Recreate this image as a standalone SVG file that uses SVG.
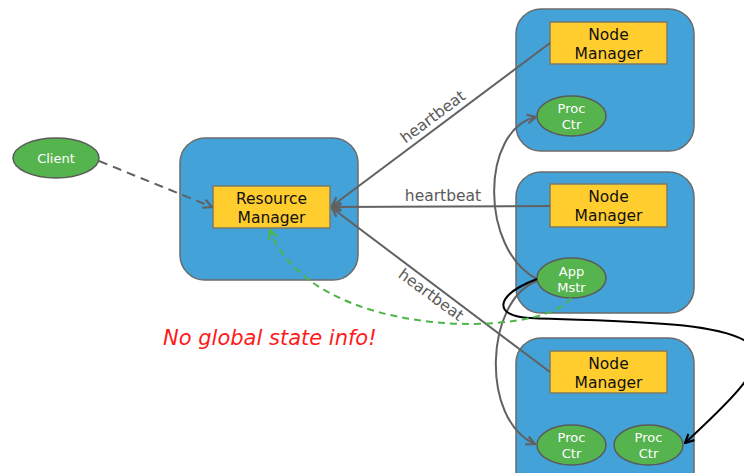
<svg xmlns="http://www.w3.org/2000/svg" width="744" height="473" viewBox="0 0 744 473">
  <style>
    text { font-family: "DejaVu Sans", Verdana, sans-serif; }
    .host { fill: #43A2D8; stroke: #6b6b6b; stroke-width: 1.5; }
    .mgr { fill: #FFCD2E; stroke: #7a7a6a; stroke-width: 1.5; }
    .mgr-t { font-size: 15.5px; fill: #111; text-anchor: middle; }
    .proc { fill: #56B44F; stroke: #5a5a5a; stroke-width: 1.5; }
    .proc-t { font-size: 13px; fill: #fff; text-anchor: middle; }
    .hb { font-size: 15.5px; fill: #5a5a5a; text-anchor: middle; }
    .link { fill: none; stroke: #616161; stroke-width: 2; }
  </style>
  <defs>
    <marker id="arr-grey" viewBox="0 0 10 10" refX="9" refY="5" markerWidth="11" markerHeight="11" markerUnits="userSpaceOnUse" orient="auto">
      <path d="M1,1 L9,5 L1,9" fill="none" stroke="#616161" stroke-width="2"/>
    </marker>
    <marker id="arr-black" viewBox="0 0 10 10" refX="9" refY="5" markerWidth="11" markerHeight="11" markerUnits="userSpaceOnUse" orient="auto">
      <path d="M1,1 L9,5 L1,9" fill="none" stroke="#000" stroke-width="2"/>
    </marker>
    <marker id="arr-green" viewBox="0 0 10 10" refX="9" refY="5" markerWidth="11" markerHeight="11" markerUnits="userSpaceOnUse" orient="auto">
      <path d="M1,1 L9,5 L1,9" fill="none" stroke="#4DB548" stroke-width="2"/>
    </marker>
  </defs>

  <!-- hosts and their daemons -->
  <g id="client">
    <ellipse class="proc" cx="56" cy="158" rx="43" ry="20"/>
    <text class="proc-t" x="56" y="163">Client</text>
  </g>

  <g id="rm-host">
    <rect class="host" x="180" y="138" width="178" height="142" rx="25"/>
  </g>
  <g id="resource-manager">
    <rect class="mgr" x="213" y="186" width="117" height="42"/>
    <text class="mgr-t" x="271.5" y="204">Resource</text>
    <text class="mgr-t" x="271.5" y="223">Manager</text>
  </g>

  <g id="host-1">
    <rect class="host" x="516" y="9" width="178" height="142" rx="25"/>
  </g>
  <g id="node-manager-1">
    <rect class="mgr" x="550" y="22" width="117" height="42"/>
    <text class="mgr-t" x="608.5" y="40">Node</text>
    <text class="mgr-t" x="608.5" y="59">Manager</text>
  </g>
  <g id="proc-ctr-1">
    <ellipse class="proc" cx="571.5" cy="116" rx="34.5" ry="20"/>
    <text class="proc-t" x="571.5" y="113">Proc</text>
    <text class="proc-t" x="571.5" y="129">Ctr</text>
  </g>

  <g id="host-2">
    <rect class="host" x="516" y="172" width="178" height="141" rx="25"/>
  </g>
  <g id="node-manager-2">
    <rect class="mgr" x="550" y="184" width="117" height="43"/>
    <text class="mgr-t" x="608.5" y="202">Node</text>
    <text class="mgr-t" x="608.5" y="221">Manager</text>
  </g>
  <g id="app-master">
    <ellipse class="proc" cx="571.5" cy="278" rx="34.5" ry="20"/>
    <text class="proc-t" x="571.5" y="276">App</text>
    <text class="proc-t" x="571.5" y="292">Mstr</text>
  </g>

  <g id="host-3">
    <rect class="host" x="516" y="338" width="178" height="160" rx="25"/>
  </g>
  <g id="node-manager-3">
    <rect class="mgr" x="550" y="351" width="117" height="42"/>
    <text class="mgr-t" x="608.5" y="369">Node</text>
    <text class="mgr-t" x="608.5" y="388">Manager</text>
  </g>
  <g id="proc-ctr-2">
    <ellipse class="proc" cx="571.5" cy="445" rx="34.5" ry="20"/>
    <text class="proc-t" x="571.5" y="442">Proc</text>
    <text class="proc-t" x="571.5" y="458">Ctr</text>
  </g>
  <g id="proc-ctr-3">
    <ellipse class="proc" cx="648.5" cy="445" rx="34.5" ry="20"/>
    <text class="proc-t" x="648.5" y="442">Proc</text>
    <text class="proc-t" x="648.5" y="458">Ctr</text>
  </g>

  <!-- connectors -->
  <g id="connectors">
    <path class="link" d="M99,161 L212,207" stroke-dasharray="9,6" stroke-width="2.2" marker-end="url(#arr-grey)"/>
    <path class="link" d="M550,43 L332,206" marker-end="url(#arr-grey)"/>
    <path class="link" d="M550,206 L332,207" marker-end="url(#arr-grey)"/>
    <path class="link" d="M550,372 L332,208" marker-end="url(#arr-grey)"/>
    <path class="link" d="M537,279 C480,250 480,130 536,117" marker-end="url(#arr-grey)"/>
    <path class="link" d="M537,281 C485,300 480,420 535,444" marker-end="url(#arr-grey)"/>
    <path d="M537,279 C495,295 492,316 530,318 C620,322 720,320 752,345 C772,365 720,410 685,443" fill="none" stroke="#000" stroke-width="2" marker-end="url(#arr-black)"/>
    <path d="M571,298 C540,340 310,340 270,230" fill="none" stroke="#4DB548" stroke-width="2" stroke-dasharray="7,5" marker-end="url(#arr-green)"/>
  </g>

  <!-- link labels -->
  <text class="hb" x="0" y="0" transform="translate(436,121) rotate(-36.8)">heartbeat</text>
  <text class="hb" x="443" y="201">heartbeat</text>
  <text class="hb" x="0" y="0" transform="translate(428,299) rotate(36.2)">heartbeat</text>

  <text x="163" y="345" font-size="21" font-style="italic" fill="#ff1a1a">No global state info!</text>
</svg>
